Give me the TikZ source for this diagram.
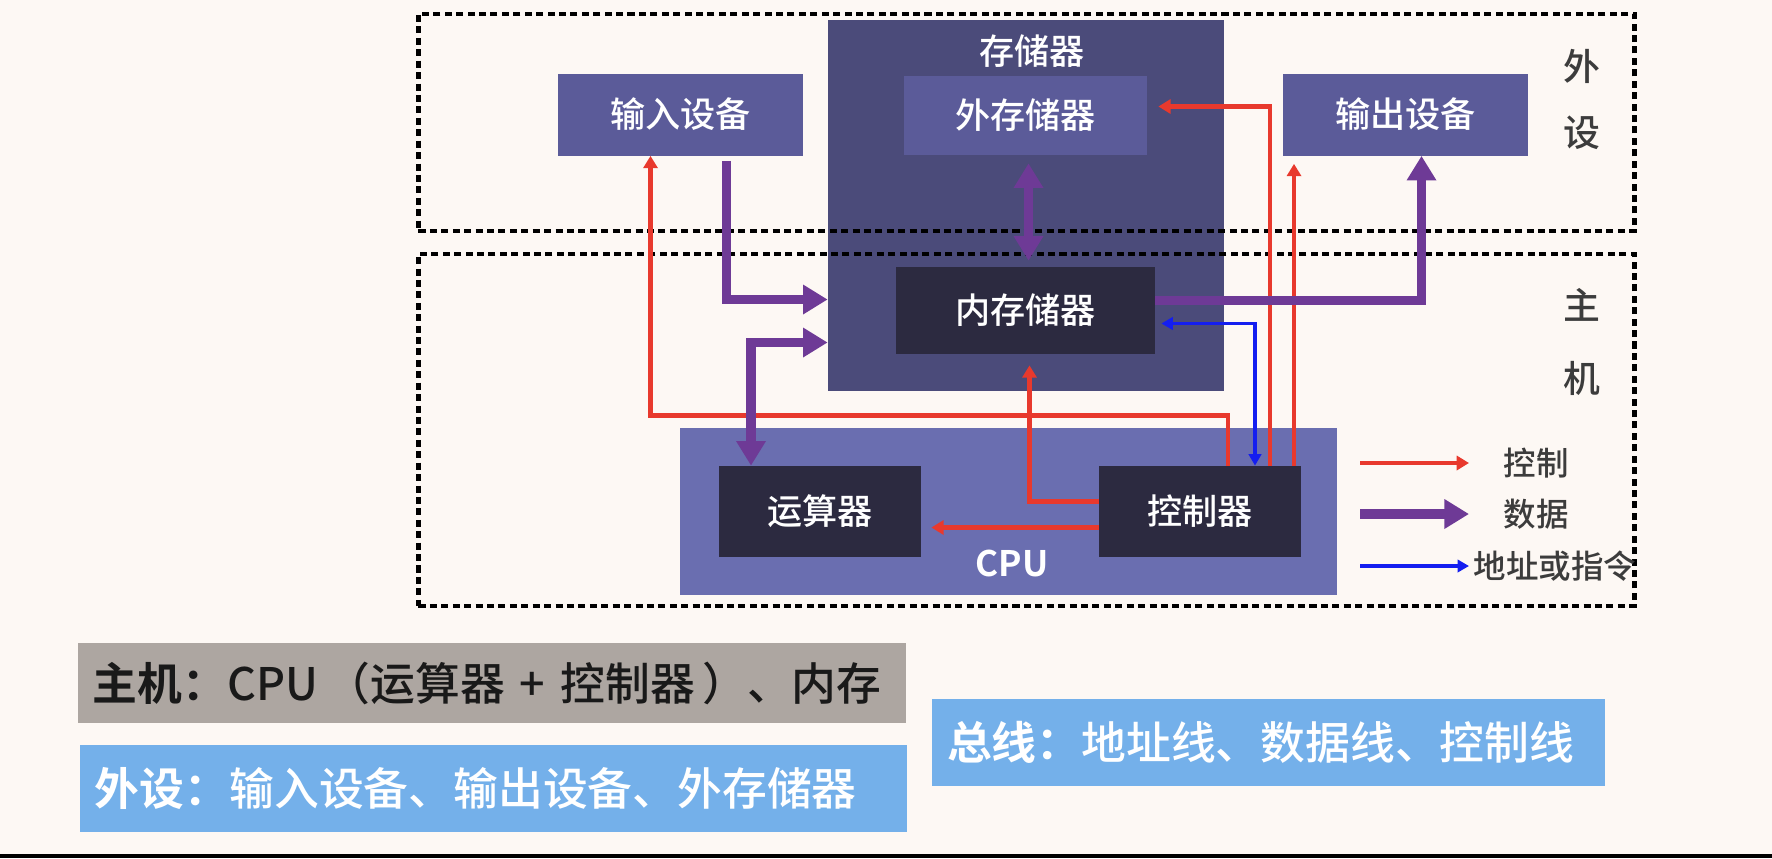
\documentclass[tikz,border=0pt]{standalone}
\usepackage{fontspec}
\setmainfont{Noto Sans CJK SC}[UprightFont={* Medium},BoldFont={* Bold}]
\usetikzlibrary{arrows.meta,calc,positioning}
\definecolor{pagebg}{RGB}{253,248,244}
\definecolor{memfill}{RGB}{75,75,122}
\definecolor{devfill}{RGB}{91,91,153}
\definecolor{corefill}{RGB}{44,42,64}
\definecolor{cpufill}{RGB}{106,110,176}
\definecolor{datpurple}{RGB}{110,58,150}
\definecolor{ctlred}{RGB}{232,57,45}
\definecolor{adrblue}{RGB}{20,30,240}
\definecolor{hostgray}{RGB}{173,166,161}
\definecolor{notebox}{RGB}{116,176,234}
\definecolor{labgray}{RGB}{60,60,60}
\newcommand{\setfs}[1]{\fontsize{#1}{#1}\selectfont}

\begin{document}
\begin{tikzpicture}[x=.2mm,y=-.2mm,every node/.style={align=center,inner sep=0pt},
    unit/.style={fill=devfill,text=white,font=\setfs{20}},
    core/.style={fill=corefill,text=white,font=\setfs{20}},
    zone/.style={draw=black,line width=2.5pt,dash pattern=on 4pt off 2.5pt},
    ctl/.style={draw=ctlred,line width=2.6pt,>={Triangle[width=8pt,length=7pt]},->},
    dat/.style={draw=datpurple,line width=5.5pt,>={Triangle[width=16pt,length=14pt]},->},
    adr/.style={draw=adrblue,line width=2pt,>={Triangle[width=7pt,length=6.5pt]},->},
    legend/.style={text=labgray,font=\setfs{18.5}},
    note/.style={font=\setfs{25.5},align=left,inner xsep=3mm,minimum height=17.4mm}]
    \fill[pagebg] (0,0) rectangle (1772,858);
    \useasboundingbox (0,0) rectangle (1772,858);
    % storage block
    \node[fill=memfill,minimum width=79.2mm,minimum height=74.2mm] (mem) at (1026,205.5) {};
    \node[text=white,font=\setfs{20}] (memlbl) at (1032,51) {存储器};
    \node[unit,minimum width=48.6mm,minimum height=15.8mm] (ext) at (1025.5,115.5) {外存储器};
    \node[core,minimum width=51.8mm,minimum height=17.4mm] (inmem) at (1025.5,310.5) {内存储器};
    \node[unit,minimum width=49mm,minimum height=16.4mm] (inp) at (680.5,114.5) {输入设备};
    \node[unit,minimum width=49mm,minimum height=16.4mm] (outp) at (1405.5,114.5) {输出设备};
    % cpu
    \node[fill=cpufill,minimum width=131.4mm,minimum height=33.4mm] (cpu) at (1008.75,511.5) {};
    \node[text=white,font=\bfseries\setfs{20}] (cpulbl) at (1012,563) {CPU};
    \node[core,minimum width=40.4mm,minimum height=18.2mm] (alu) at (820,511.5) {运算器};
    \node[core,minimum width=40.4mm,minimum height=18.2mm] (ctrl) at (1200,511.5) {控制器};
    % dashed zones
    \node[zone,minimum width=243.2mm,minimum height=43.4mm] (peri) at (1026.5,122.5) {};
    \node[zone,minimum width=243.2mm,minimum height=70.4mm] (host) at (1026.5,430) {};
    \node[text=labgray,font=\fontsize{21}{38}\selectfont] (perilbl) at (1582,99.5) {外\\设};
    \node[text=labgray,font=\fontsize{21}{42}\selectfont] (hostlbl) at (1582,342) {主\\机};
    % control lines
    \draw[ctl] ($(ctrl.north)+(28,0)$) -- ++(0,-50) -| ($(inp.south)+(-30,0)$);
    \draw[ctl,shorten >=2.2mm] ($(ctrl.north)+(70,0)$) |- ($(ext.east)+(0,-9)$);
    \coordinate (c3) at ($(ctrl.north)+(94,0)$);
    \draw[ctl,shorten >=1.6mm] (c3) -- (c3 |- outp.south);
    \draw[ctl,shorten >=2.2mm] ($(ctrl.west)+(0,-10)$) -| ($(inmem.south)+(4,0)$);
    \draw[ctl,shorten >=2mm] ($(ctrl.west)+(0,16)$) -- ($(alu.east)+(0,16)$);
    % address line
    \draw[adr,<->,shorten <=1.2mm] ($(inmem.east)+(0,13)$) -| ($(ctrl.north)+(55,0)$);
    % data lines
    \draw[dat,shorten <=1mm] ($(inp.south)+(46,0)$) |- ($(mem.west)+(0,94)$);
    \draw[dat,<->] ($(mem.west)+(0,137)$) -| ($(alu.north)+(-69,0)$);
    \draw[dat,<->,shorten <=1.6mm,shorten >=1.2mm] ($(ext.south)+(3,0)$) -- ($(inmem.north)+(3,0)$);
    \draw[dat] ($(inmem.east)+(0,-10)$) -| ($(outp.south)+(16,0)$);
    % legend
    \coordinate (lgctl) at (1360,463);
    \coordinate (lgdat) at (1360,514);
    \coordinate (lgadr) at (1360,566);
    \draw[ctl] (lgctl) -- ++(109,0);
    \draw[dat] (lgdat) -- ++(109,0);
    \draw[adr] (lgadr) -- ++(109,0);
    \node[legend] (lctl) at (1536,463) {控制};
    \node[legend] (ldat) at (1536,514) {数据};
    \node[legend] (ladr) at (1555,566) {地址或指令};
    % notes
    \node[note,fill=hostgray,text=black!90,text width=159.6mm,minimum height=16mm] (hostnote) at (492,683) {\textbf{主机：}CPU\,（运算器 + 控制器\,）、内存};
    \node[note,fill=notebox,text=white,text width=159.4mm] (perinote) at (493.5,788.5) {\textbf{外设：}输入设备、输出设备、外存储器};
    \node[note,fill=notebox,text=white,text width=128.6mm] (busnote) at (1268.5,742.5) {\textbf{总线：}地址线、数据线、控制线};
    \fill[black] (0,854) rectangle (1772,858);
\end{tikzpicture}
\end{document}
